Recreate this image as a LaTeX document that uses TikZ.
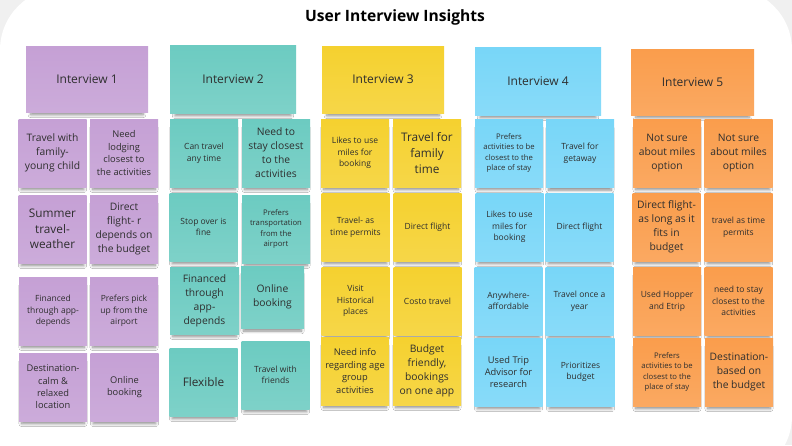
\documentclass[tikz,border=0pt]{standalone}
\usepackage{fontspec}
\setmainfont{Open Sans}
\usetikzlibrary{shadows.blur}

\definecolor{ivlilac}{HTML}{C5A0D5}
\definecolor{ivteal}{HTML}{6CCBC1}
\definecolor{ivyellow}{HTML}{F5D12F}
\definecolor{ivblue}{HTML}{78D6F8}
\definecolor{ivorange}{HTML}{FA9D4C}
\definecolor{inktext}{HTML}{2E2E2E}
\definecolor{canvas}{HTML}{F0F0F0}

\begin{document}
\begin{tikzpicture}[x=1pt, y=-1pt]
   \tikzstyle{note}=[rectangle, minimum width=68pt, minimum height=68pt, inner sep=1pt, align=center, text=inktext,
      blur shadow={shadow xshift=0pt, shadow yshift=-6pt, shadow scale=0.92, shadow blur radius=3pt, shadow blur steps=8, shadow opacity=45}]
   \tikzstyle{header}=[note, minimum width=123pt, minimum height=67pt, font=\fontsize{12}{16}\selectfont]
   \tikzstyle{lilac}=[top color=ivlilac, bottom color=ivlilac!88!white]
   \tikzstyle{teal}=[top color=ivteal, bottom color=ivteal!88!white]
   \tikzstyle{yellow}=[top color=ivyellow, bottom color=ivyellow!88!white]
   \tikzstyle{blue}=[top color=ivblue, bottom color=ivblue!88!white]
   \tikzstyle{orange}=[top color=ivorange, bottom color=ivorange!88!white]
   \tikzstyle{f7}=[font=\fontsize{7.7}{10.6}\selectfont]
   \tikzstyle{f8}=[font=\fontsize{8.5}{11.6}\selectfont]
   \tikzstyle{f9}=[font=\fontsize{9.3}{12.4}\selectfont]
   \tikzstyle{f10}=[font=\fontsize{10.3}{14}\selectfont]
   \tikzstyle{f12}=[font=\fontsize{11.8}{15.6}\selectfont]

\useasboundingbox (0,0) rectangle (792,445);
% board
\fill[canvas] (0,0) rectangle (792,445);
\fill[white, rounded corners=62pt] (0,540) -- (0,-12) -- (792,-12) -- (792,478) -- (-90,478) -- cycle;

\node[font=\fontsize{15.6}{18}\selectfont\bfseries, text=black] (title) at (395,17) {User Interview Insights};

% interview 1
\node[header, lilac, minimum width=122pt, minimum height=66pt] (iv1) at (87,79) {Interview 1};
\node[note, lilac, f10] (iv1a) at (52.5,153) {Travel with\\family-\\young child};
\node[note, lilac, f9]  (iv1b) at (124,153) {Need\\lodging\\closest to\\the activities};
\node[note, lilac, f12] (iv1c) at (52.5,229) {Summer\\travel-\\weather};
\node[note, lilac, f10] (iv1d) at (124,229) {Direct\\flight- r\\depends on\\the budget};
\node[note, lilac, f8]  (iv1e) at (53,311) {Financed\\through app-\\depends};
\node[note, lilac, f8]  (iv1f) at (124,311) {Prefers pick\\up from the\\airport};
\node[note, lilac, f9]  (iv1g) at (53,387) {Destination-\\calm \&\\relaxed\\location};
\node[note, lilac, f9]  (iv1h) at (124.5,387) {Online\\booking};

% interview 2
\node[header, teal, minimum width=126pt, minimum height=68pt] (iv2) at (233,79) {Interview 2};
\node[note, teal, f8]  (iv2a) at (204,153) {Can travel\\any time};
\node[note, teal, f10] (iv2b) at (276,153) {Need to\\stay closest\\to the\\activities};
\node[note, teal, f8]  (iv2c) at (203.5,227) {Stop over is\\fine};
\node[note, teal, f7]  (iv2d) at (276,229) {Prefers\\transportation\\from the\\airport};
\node[note, teal, f10, minimum width=69pt, minimum height=67pt] (iv2e) at (204.5,300.5) {Financed\\through\\app-\\depends};
\node[note, teal, f10, minimum width=63pt, minimum height=62pt] (iv2f) at (272.5,297) {Online\\booking};
\node[note, teal, f12] (iv2g) at (203.5,382) {Flexible};
\node[note, teal, f8]  (iv2h) at (275.5,375) {Travel with\\friends};

% interview 3
\node[header, yellow, minimum width=122pt, minimum height=67pt] (iv3) at (383,79.5) {Interview 3};
\node[note, yellow, f8]  (iv3a) at (355,153) {Likes to use\\miles for\\booking};
\node[note, yellow, f12] (iv3b) at (427,153) {Travel for\\family\\time};
\node[note, yellow, f8]  (iv3c) at (355.5,227) {Travel- as\\time permits};
\node[note, yellow, f8]  (iv3d) at (427.5,227) {Direct flight};
\node[note, yellow, f8]  (iv3e) at (355.5,301) {Visit\\Historical\\places};
\node[note, yellow, f8]  (iv3f) at (427.5,301) {Costo travel};
\node[note, yellow, f9]  (iv3g) at (355,371) {Need info\\regarding age\\group\\activities};
\node[note, yellow, f10] (iv3h) at (427,371) {Budget\\friendly,\\bookings\\on one app};

% interview 4
\node[header, blue, minimum width=126pt, minimum height=68pt] (iv4) at (538,81) {Interview 4};
\node[note, blue, f7] (iv4a) at (509,153) {Prefers\\activities to be\\closest to the\\place of stay};
\node[note, blue, f8] (iv4b) at (580,153.5) {Travel for\\getaway};
\node[note, blue, f8] (iv4c) at (509.5,227) {Likes to use\\miles for\\booking};
\node[note, blue, f8] (iv4d) at (579.5,227) {Direct flight};
\node[note, blue, f8] (iv4e) at (508.5,301) {Anywhere-\\affordable};
\node[note, blue, f8] (iv4f) at (579.5,301) {Travel once a\\year};
\node[note, blue, f9] (iv4g) at (508.5,372) {Used Trip\\Advisor for\\research};
\node[note, blue, f8] (iv4h) at (580.5,372) {Prioritizes\\budget};

% interview 5
\node[header, orange, minimum width=123pt, minimum height=66pt] (iv5) at (692.5,82) {Interview 5};
\node[note, orange, f10] (iv5a) at (667,153) {Not sure\\about miles\\option};
\node[note, orange, f10] (iv5b) at (738.5,153) {Not sure\\about miles\\option};
\node[note, orange, f10] (iv5c) at (666.5,227) {Direct flight-\\as long as it\\fits in\\budget};
\node[note, orange, f8]  (iv5d) at (738.5,227) {travel as time\\permits};
\node[note, orange, f8]  (iv5e) at (667,301) {Used Hopper\\and Etrip};
\node[note, orange, f8]  (iv5f) at (738.5,301) {need to stay\\closest to the\\activities};
\node[note, orange, f7]  (iv5g) at (667,372) {Prefers\\activities to be\\closest to the\\place of stay};
\node[note, orange, f10] (iv5h) at (739,372) {Destination-\\based on\\the budget};

\end{tikzpicture}
\end{document}
